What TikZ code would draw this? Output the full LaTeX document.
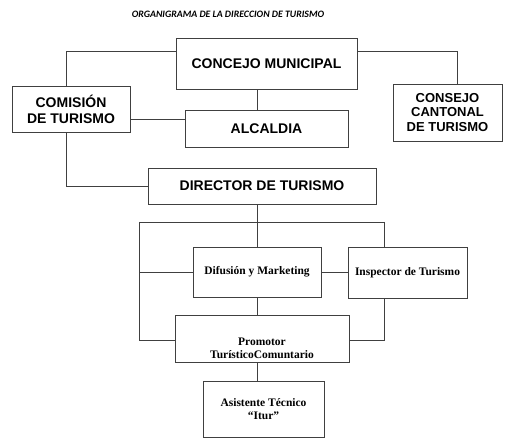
\documentclass[tikz,border=0pt]{standalone}
\usepackage{fontspec}
\setmainfont{Liberation Serif}
\newfontfamily\arialfont{Liberation Sans}
\newfontfamily\calibrifont{Carlito}
\usetikzlibrary{positioning}

\begin{document}
\begin{tikzpicture}[x=1pt, y=-1pt, line width=0.8pt, draw=black!75,
	cargo/.style={draw=black!75, inner sep=0pt, align=center,
		font=\arialfont\bfseries\fontsize{14}{16}\selectfont},
	unidad/.style={draw=black!75, inner sep=0pt, align=center,
		font=\bfseries\fontsize{11.5}{13}\selectfont}]
	\useasboundingbox (0,0) rectangle (508,443);
	\node[font=\calibrifont\bfseries\itshape\fontsize{9.8}{11}\selectfont] (titulo) at (228,14) {ORGANIGRAMA DE LA DIRECCION DE TURISMO};
	% cargos superiores
	\node[cargo, minimum width=181pt, minimum height=51pt] (concejo) at (266.5,64) {CONCEJO MUNICIPAL};
	\node[cargo, minimum width=118pt, minimum height=46pt] (comision) at (71,109) {COMISIÓN\\DE TURISMO};
	\node[cargo, minimum width=163pt, minimum height=37pt] (alcaldia) at (266.5,128.5) {ALCALDIA};
	\node[cargo, minimum width=109pt, minimum height=57pt, font=\arialfont\bfseries\fontsize{13}{14.5}\selectfont] (consejo) at (447.5,112.5) {CONSEJO\\CANTONAL\\DE TURISMO};
	\node[cargo, minimum width=228pt, minimum height=36pt] (director) at (262,186) {DIRECTOR DE TURISMO};
	% unidades
	\node[unidad, minimum width=128pt, minimum height=50pt] (difusion) at (257,272) {Difusión y Marketing};
	\node[unidad, minimum width=119pt, minimum height=51pt] (inspector) at (407.5,272.5) {Inspector de Turismo};
	\node[unidad, minimum width=174pt, minimum height=47pt, text depth=0pt,
		label={[unidad, draw=none, yshift=-10pt]center:Promotor\\TurísticoComuntario}] (promotor) at (262,338.5) {};
	\node[unidad, minimum width=121pt, minimum height=56pt] (asistente) at (263.5,409) {Asistente Técnico\\“Itur”};
	\coordinate (busl) at (139,222);
	\coordinate (busr) at (384,222);
	% conexiones
	\draw ([yshift=13pt]concejo.west) -| ([xshift=-5pt]comision.north);
	\draw ([yshift=13pt]concejo.east) -| ([xshift=9.5pt]consejo.north);
	\draw ([xshift=-9.5pt]concejo.south) -- ([xshift=-9.5pt]alcaldia.north);
	\draw ([yshift=-10pt]comision.east) -- ([yshift=9.5pt]alcaldia.west);
	\draw ([xshift=-5pt]comision.south) |- (director.west);
	\draw ([xshift=-5pt]director.south) -- (difusion.north);
	\draw (busl) -- (busr);
	\draw (busr) -- (busr |- inspector.north);
	\draw (busl) |- ([yshift=-1.5pt]promotor.west);
	\draw (busl |- difusion.west) -- (difusion.west);
	\draw (difusion.east) -- (difusion.east -| inspector.west);
	\draw (busr |- inspector.south) |- ([yshift=-1.5pt]promotor.east);
	\draw (difusion.south) -- (promotor.north -| difusion.south);
	\draw (promotor.south -| difusion.south) -- (asistente.north -| difusion.south);
\end{tikzpicture}
\end{document}
